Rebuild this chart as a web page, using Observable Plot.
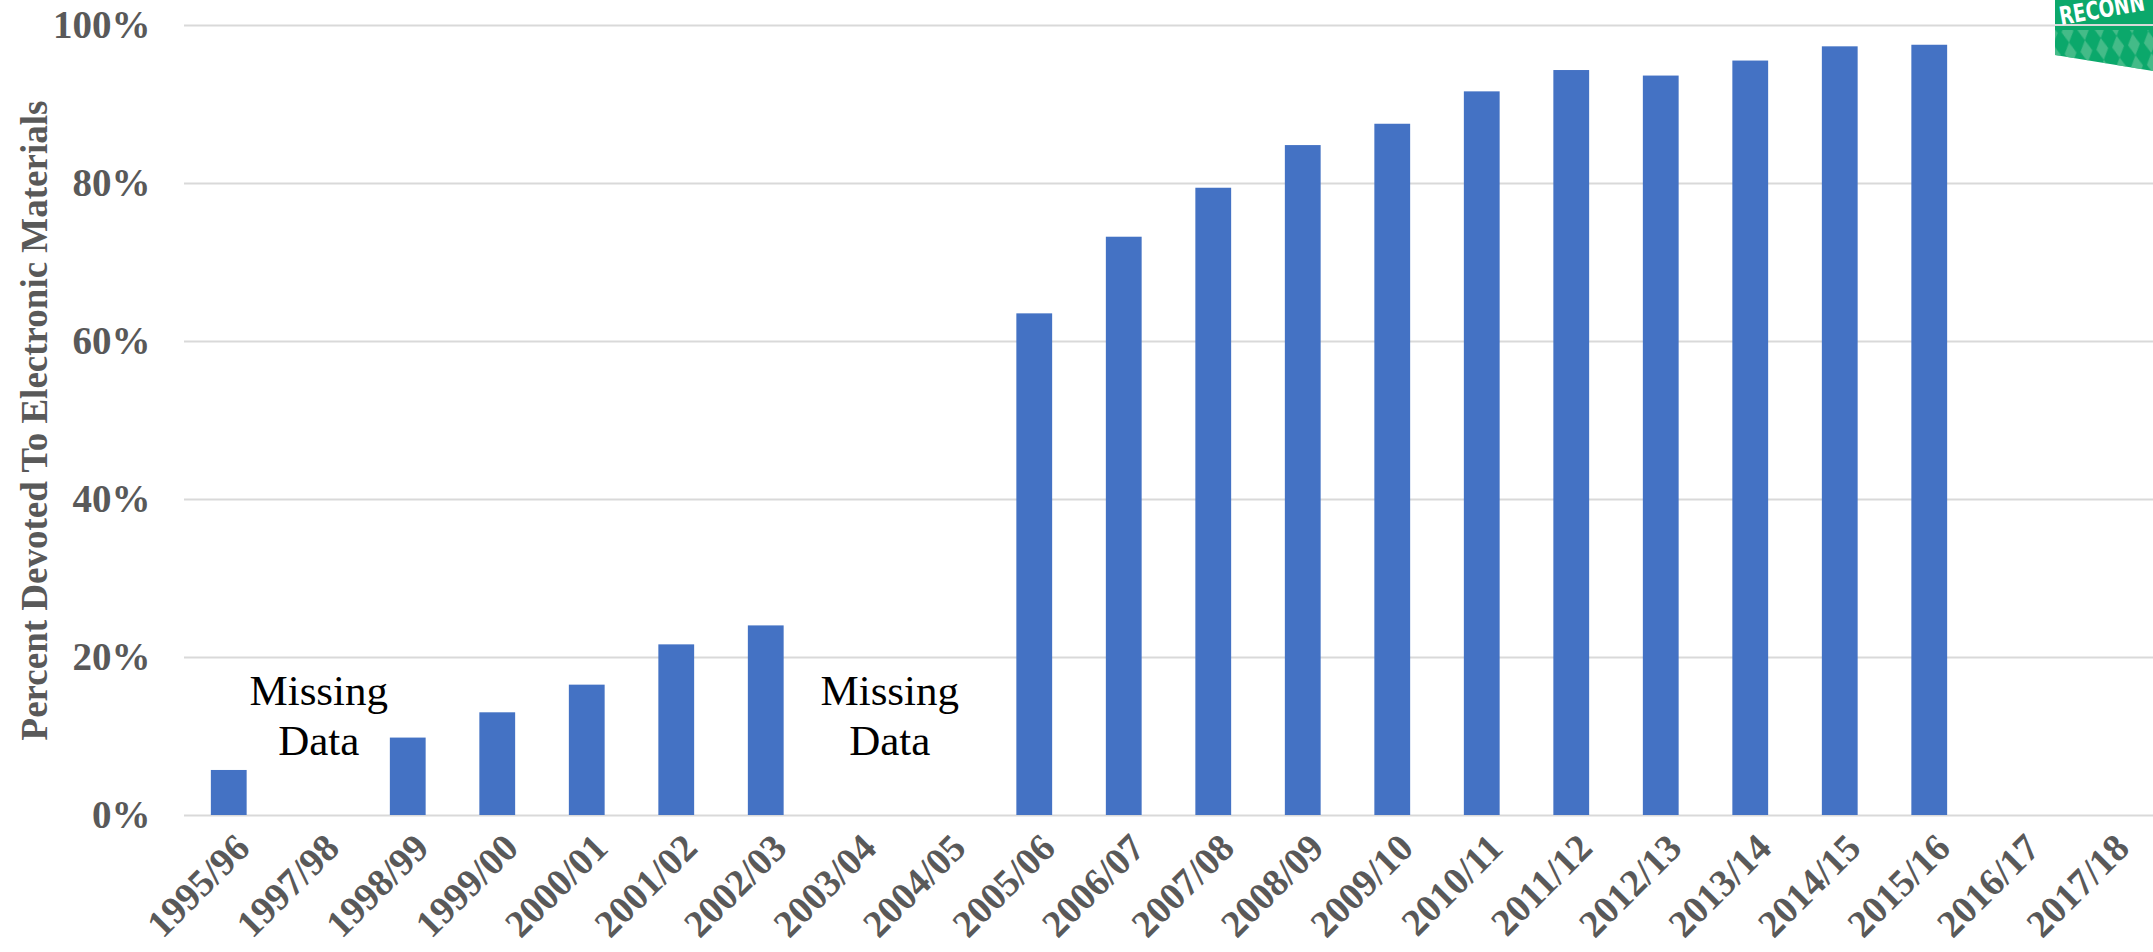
<!DOCTYPE html>
<html>
<head>
<meta charset="utf-8">
<script src="https://cdn.jsdelivr.net/npm/d3@7"></script>
<script src="https://cdn.jsdelivr.net/npm/@observablehq/plot@0.6"></script>
<style>
  html, body { margin: 0; padding: 0; background: #ffffff; }
  #wrap { position: relative; width: 2153px; height: 952px; overflow: hidden; }
  #logo { position: absolute; top: 0; right: 0; }
</style>
</head>
<body>
<div id="wrap">
  <div id="chart"></div>
  <svg id="logo" width="98" height="72" viewBox="0 0 98 72">
    <defs>
      <clipPath id="lc"><polygon points="0,0 98,0 98,71 0,55"/></clipPath>
      <pattern id="dia" width="16" height="22" patternUnits="userSpaceOnUse" patternTransform="rotate(-8)">
        <path d="M8 0 L14 11 L8 22 L2 11 Z" fill="#52c08f"/>
      </pattern>
    </defs>
    <g clip-path="url(#lc)">
      <rect x="0" y="0" width="98" height="72" fill="#0ba86b"/>
      <rect x="0" y="30" width="98" height="42" fill="url(#dia)" opacity="0.8"/>
      <line x1="0" x2="98" y1="25" y2="25" stroke="#d9d9d9" stroke-width="2"/>
      <text x="6" y="25" transform="rotate(-10 6 25)" textLength="86" lengthAdjust="spacingAndGlyphs" fill="#ffffff" font-family="DejaVu Sans Condensed, DejaVu Sans" font-weight="bold" font-size="25">RECONN</text>
    </g>
  </svg>
</div>
<script>
// ---- data ----
const categories = ["1995/96","1997/98","1998/99","1999/00","2000/01","2001/02","2002/03","2003/04","2004/05","2005/06","2006/07","2007/08","2008/09","2009/10","2010/11","2011/12","2012/13","2013/14","2014/15","2015/16","2016/17","2017/18"];
const values = [5.7, null, 9.8, 13.0, 16.5, 21.6, 24.0, null, null, 63.5, 73.2, 79.4, 84.8, 87.5, 91.6, 94.3, 93.6, 95.5, 97.3, 97.5, null, null];
const yTicks = [0, 20, 40, 60, 80, 100];
const yTitle = "Percent Devoted To Electronic Materials";
const missingText = "Missing\nData";
const missingAt = ["1997/98", "2003/04"];
const missingLevel = 12.8;

const data = categories.map((c, i) => ({year: c, value: values[i]})).filter(d => d.value != null);

const serif = "'Liberation Serif', 'Times New Roman', Times, serif";

const chart = Plot.plot({
  width: 2153,
  height: 952,
  marginLeft: 184,
  marginRight: 0,
  marginTop: 25,
  marginBottom: 137,
  style: {fontFamily: serif, background: "#ffffff", color: "#595959"},
  x: {type: "band", domain: categories, paddingInner: 0.6, paddingOuter: 0.3, align: 0.5, round: false},
  y: {domain: [0, 100]},
  marks: [
    Plot.ruleY(yTicks, {stroke: "#d9d9d9", strokeWidth: 2}),
    Plot.barY(data, {x: "year", y: "value", fill: "#4472c4"}),
    Plot.axisY({
      ticks: yTicks, tickFormat: d => d + "%", tickSize: 0, tickPadding: 34,
      fontSize: 39, fontWeight: "bold", fill: "#595959", label: null
    }),
    Plot.axisX({
      tickRotate: -45, tickSize: 0, tickPadding: 26, dx: 14,
      fontSize: 38.5, fontWeight: "bold", fill: "#595959", label: null
    }),
    Plot.text([yTitle], {
      frameAnchor: "left", dx: -149, rotate: -90, textAnchor: "middle",
      fontSize: 37, fontWeight: "bold", fill: "#595959", fontFamily: serif
    }),
    Plot.text([missingAt[0]], {
      x: d => d, y: missingLevel, text: () => missingText,
      fontSize: 43, lineHeight: 1.16, fill: "#000000", fontFamily: serif, textAnchor: "middle"
    }),
    Plot.text([missingAt[1]], {
      x: d => d, y: missingLevel, text: () => missingText, dx: 34,
      fontSize: 43, lineHeight: 1.16, fill: "#000000", fontFamily: serif, textAnchor: "middle"
    })
  ]
});
document.getElementById("chart").appendChild(chart);
</script>
</body>
</html>
